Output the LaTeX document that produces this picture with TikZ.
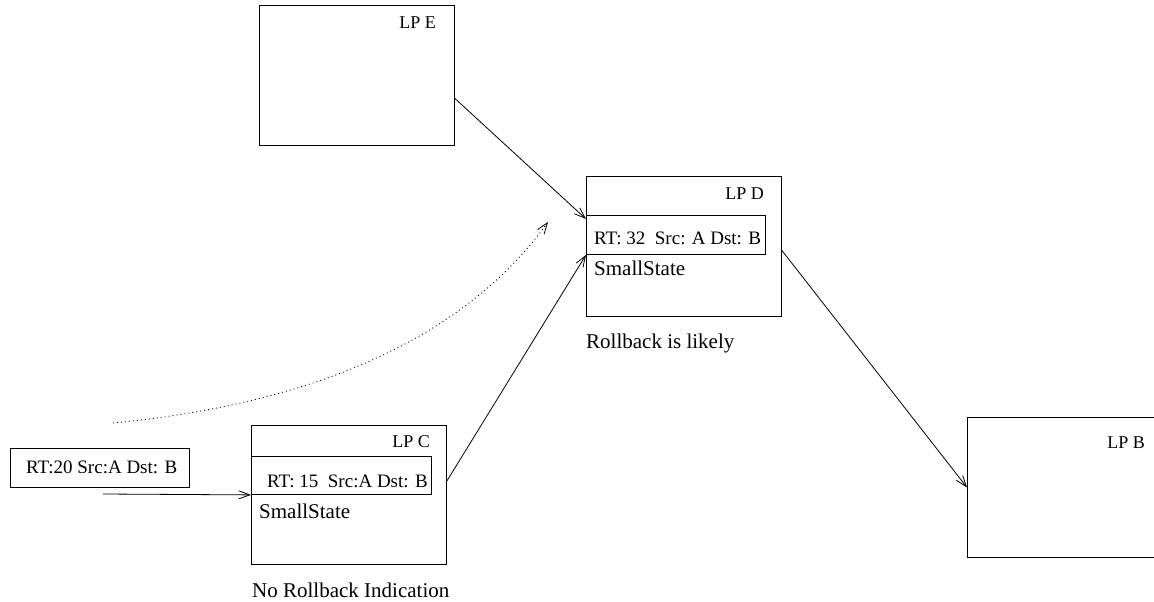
\documentclass[tikz,border=0pt]{standalone}
\usepackage{fontspec}
\newfontfamily\figfont{Liberation Serif}
\usetikzlibrary{arrows.meta}
\begin{document}
\begin{tikzpicture}[x=1pt,y=-1pt,
  box/.style={draw, line width=0.9pt, inner sep=0pt, anchor=north west},
  txt/.style={inner sep=0pt, font=\figfont\fontsize{21}{24}\selectfont},
  msg/.style={inner sep=0pt, font=\figfont\fontsize{19}{22}\selectfont},
  lp/.style={inner sep=0pt, anchor=base east, font=\figfont\fontsize{18}{21}\selectfont},
  link/.style={line width=0.8pt, -{Straight Barb[length=11pt,width=8pt,line width=0.8pt]}}]
\useasboundingbox (0,0) rectangle (1154,602);

% logical processes
\node[box, minimum width=195, minimum height=140] (E) at (259,5) {};
\node[lp] (Elbl) at (436,29) {LP E};

\node[box, minimum width=195, minimum height=140] (D) at (586,176) {};
\node[lp] (Dlbl) at (764,199) {LP D};
\node[box, minimum width=179, minimum height=39] (Dm) at (586,215) {};
\node[msg, anchor=base west] (Dmsg) at (594,244) {RT: 32\ \ Src: A Dst: B};
\node[txt, anchor=base west] (Dst) at (594,275) {SmallState};
\node[txt, anchor=base west] (Dcap) at (586,348) {Rollback is likely};

\node[box, minimum width=195, minimum height=139] (C) at (251,425) {};
\node[lp] (Clbl) at (430,447) {LP C};
\node[box, minimum width=180, minimum height=38] (Cm) at (251,456) {};
\node[msg, anchor=base west] (Cmsg) at (267,487) {RT: 15\ \ Src:A Dst: B};
\node[txt, anchor=base west] (Cst) at (259,518) {SmallState};
\node[txt, anchor=base west] (Ccap) at (252,597) {No Rollback Indication};

\node[box, minimum width=200, minimum height=140] (B) at (967,417) {};
\node[lp] (Blbl) at (1145,448) {LP B};

% incoming message
\node[box, minimum width=179, minimum height=39] (M) at (10,448) {};
\node[msg, anchor=base west] (Mmsg) at (26,473) {RT:20 Src:A Dst: B};

\coordinate (in) at (103,494);
\coordinate (ds) at (113,423);
\coordinate (de) at (548,222);

% connectors
\draw[link] ([yshift=-23pt]E.east) -- ([yshift=-4pt]Dm.north west);
\draw[link] ([yshift=14pt]C.east) -- (Dm.south west);
\draw[link] ([yshift=-4pt]D.east) -- (B.west);
\draw[link] (in) -- (Cm.south west);
\draw[link, dash pattern=on 1pt off 3pt] (ds) .. controls (330,402) and (470,330) .. (de);
\end{tikzpicture}
\end{document}
